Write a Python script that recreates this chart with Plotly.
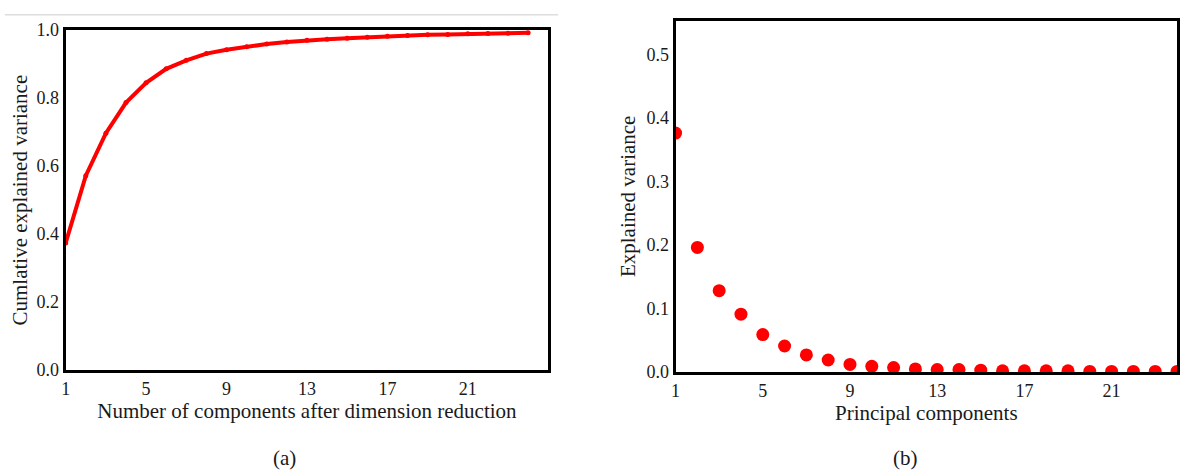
import plotly.graph_objects as go

components = list(range(1, 25))
cumulative_variance = [0.374, 0.572, 0.697, 0.787, 0.845, 0.886, 0.911, 0.931, 0.942, 0.951,
                       0.959, 0.965, 0.970, 0.973, 0.976, 0.979, 0.982, 0.984, 0.986, 0.987,
                       0.989, 0.990, 0.991, 0.992]
explained_variance = [0.376, 0.196, 0.128, 0.091, 0.059, 0.041, 0.027, 0.019, 0.012, 0.009,
                      0.007, 0.005, 0.004, 0.004, 0.003, 0.002, 0.002, 0.002, 0.002, 0.001,
                      0.001, 0.001, 0.001, 0.001]
x_ticks = [1, 5, 9, 13, 17, 21]
left_y_ticks = [0.0, 0.2, 0.4, 0.6, 0.8, 1.0]
right_y_ticks = [0.0, 0.1, 0.2, 0.3, 0.4, 0.5]

W, H = 1180, 474
FONT = "Liberation Serif, Times New Roman, serif"
RED = "#ff0000"
TXT = "#1a1a1a"


def px_x(v):
    return v / W


def px_y(v):
    return 1 - v / H


fig = go.Figure()
fig.add_trace(go.Scatter(x=components, y=cumulative_variance, mode="lines+markers",
                         line=dict(color=RED, width=4), marker=dict(color=RED, size=5),
                         xaxis="x", yaxis="y", showlegend=False))
fig.add_trace(go.Scatter(x=components, y=explained_variance, mode="markers",
                         marker=dict(color=RED, size=13), cliponaxis=True,
                         xaxis="x2", yaxis="y2", showlegend=False))

axis_common = dict(showline=True, mirror=True, linecolor="black", linewidth=3,
                   showgrid=False, zeroline=False, ticks="",
                   tickfont=dict(family=FONT, size=18, color=TXT))

fig.update_layout(
    width=W, height=H, margin=dict(l=0, r=0, t=0, b=0),
    paper_bgcolor="white", plot_bgcolor="white",
    font=dict(family=FONT, color=TXT),
    xaxis=dict(domain=[px_x(61), px_x(546)], range=[1, 25], tickvals=x_ticks,
               title=dict(text="Number of components after dimension reduction",
                          font=dict(family=FONT, size=21, color=TXT), standoff=2),
               anchor="y", **axis_common),
    yaxis=dict(domain=[px_y(376), px_y(21)], range=[0, 1.0], tickvals=left_y_ticks,
               tickformat=".1f",
               title=dict(text="Cumlative explained variance",
                          font=dict(family=FONT, size=21, color=TXT), standoff=4),
               anchor="x", **axis_common),
    xaxis2=dict(domain=[px_x(674), px_x(1178)], range=[1, 24], tickvals=x_ticks,
                title=dict(text="Principal components",
                           font=dict(family=FONT, size=21, color=TXT), standoff=2),
                anchor="y2", **axis_common),
    yaxis2=dict(domain=[px_y(378), px_y(11)], range=[0, 0.553], tickvals=right_y_ticks,
                tickformat=".1f",
                title=dict(text="Explained variance",
                           font=dict(family=FONT, size=21, color=TXT), standoff=6),
                anchor="x2", **axis_common),
    shapes=[dict(type="line", xref="paper", yref="paper", x0=0, x1=px_x(556),
                 y0=px_y(5), y1=px_y(5), line=dict(color="#dddddd", width=1.5))],
    annotations=[
        dict(text="(a)", xref="paper", yref="paper", x=px_x(281), y=px_y(468),
             xanchor="center", yanchor="middle",
             showarrow=False, font=dict(family=FONT, size=21, color=TXT)),
        dict(text="(b)", xref="paper", yref="paper", x=px_x(905), y=px_y(468),
             xanchor="center", yanchor="middle",
             showarrow=False, font=dict(family=FONT, size=21, color=TXT)),
    ],
)

fig.write_html("out.html")
